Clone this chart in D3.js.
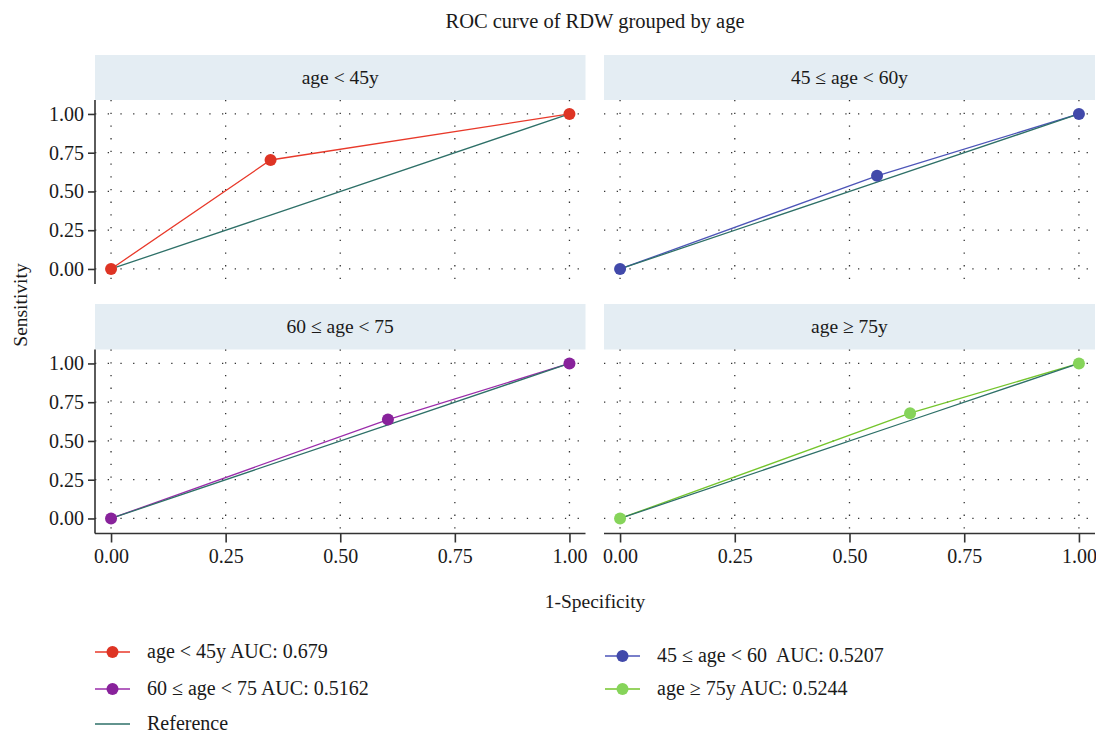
<!DOCTYPE html>
<html>
<head>
<meta charset="utf-8">
<script src="https://cdn.jsdelivr.net/npm/d3@7"></script>
<style>
  body { margin: 0; background: #fff; }
  svg text { font-family: "Liberation Serif", "DejaVu Serif", serif; fill: #1a1a1a; }
</style>
</head>
<body>
<div id="chart"></div>
<script>
// data
var panelNames = ["age < 45y", "45 \u2264 age < 60y", "60 \u2264 age < 75", "age \u2265 75y"];
var fprValues = [[0, 0.348, 1], [0, 0.56, 1], [0, 0.604, 1], [0, 0.632, 1]];
var tprValues = [[0, 0.703, 1], [0, 0.601, 1], [0, 0.638, 1], [0, 0.679, 1]];
var legendLabels = ["age < 45y AUC: 0.679", "45 \u2264 age < 60  AUC: 0.5207",
                    "60 \u2264 age < 75 AUC: 0.5162", "age \u2265 75y AUC: 0.5244"];
var pointColors = ["#DE3424", "#4149AA", "#88229B", "#86D45A"];
var lineColors  = ["#E8392A", "#4D55B8", "#9A2CAA", "#74C52C"];
var refColor = "#2E7068";
var tickValues = [0, 0.25, 0.5, 0.75, 1];

var width = 1096, height = 733;
var serif = '"Liberation Serif", "DejaVu Serif", serif';

// panel layout
var cols = [{x0: 95, x1: 585.5}, {x0: 604, x1: 1095}];
var rows = [{strip: 55, top: 100, bottom: 284}, {strip: 304, top: 349.5, bottom: 533.5}];

var svg = d3.select('#chart').append('svg')
    .attr('width', width)
    .attr('height', height);

// title
svg.append('text')
    .attr('x', 595).attr('y', 28)
    .attr('text-anchor', 'middle')
    .style('font-size', '20.5px')
    .text('ROC curve of RDW grouped by age');

var fmt = d3.format('.2f');

panelNames.forEach(function(name, i) {
  var c = cols[i % 2], r = rows[Math.floor(i / 2)];

  var x = d3.scaleLinear().domain([-0.035, 1.035]).range([c.x0, c.x1]);
  var y = d3.scaleLinear().domain([-0.097, 1.09]).range([r.bottom, r.top]);

  var g = svg.append('g');

  // strip
  g.append('rect')
      .attr('x', c.x0).attr('y', r.strip)
      .attr('width', c.x1 - c.x0).attr('height', r.top - r.strip)
      .attr('fill', '#E4EDF3');
  g.append('text')
      .attr('x', (c.x0 + c.x1) / 2).attr('y', (r.strip + r.top) / 2 + 6)
      .attr('text-anchor', 'middle')
      .style('font-size', '19.5px')
      .text(name);

  // dotted grid
  g.selectAll('.gx').data(tickValues).enter().append('line')
      .attr('x1', function(d) { return x(d); }).attr('x2', function(d) { return x(d); })
      .attr('y1', r.top).attr('y2', r.bottom)
      .attr('stroke', '#333').attr('stroke-width', 1.3)
      .attr('stroke-dasharray', '1.3 11.4');
  g.selectAll('.gy').data(tickValues).enter().append('line')
      .attr('x1', c.x0).attr('x2', c.x1)
      .attr('y1', function(d) { return y(d); }).attr('y2', function(d) { return y(d); })
      .attr('stroke', '#333').attr('stroke-width', 1.3)
      .attr('stroke-dasharray', '1.3 11.4');

  // axes: y only on left column, x only on bottom row
  if (i % 2 === 0) {
    var ay = g.append('g')
        .attr('transform', 'translate(' + c.x0 + ',0)')
        .call(d3.axisLeft(y).tickValues(tickValues).tickFormat(fmt).tickSize(7).tickPadding(4));
    ay.select('.domain').attr('d', 'M0,' + r.top + 'V' + r.bottom);
  }
  if (i >= 2) {
    var ax = g.append('g')
        .attr('transform', 'translate(0,' + r.bottom + ')')
        .call(d3.axisBottom(x).tickValues(tickValues).tickFormat(fmt).tickSize(9).tickPadding(6));
    ax.select('.domain').attr('d', 'M' + c.x0 + ',0H' + c.x1);
  }
  g.selectAll('.domain').attr('stroke', '#333').attr('stroke-width', 1.6);
  g.selectAll('.tick line').attr('stroke', '#333').attr('stroke-width', 1.6);
  g.selectAll('.tick text')
      .style('font-family', serif)
      .style('font-size', '20px')
      .attr('fill', '#1a1a1a');

  var pts = fprValues[i].map(function(v, j) { return [v, tprValues[i][j]]; });
  var ref = fprValues[i].map(function(v) { return [v, v]; });
  var line = d3.line().x(function(d) { return x(d[0]); }).y(function(d) { return y(d[1]); });

  g.append('path').attr('d', line(pts))
      .attr('fill', 'none').attr('stroke', lineColors[i]).attr('stroke-width', 1.3);
  g.append('path').attr('d', line(ref))
      .attr('fill', 'none').attr('stroke', refColor).attr('stroke-width', 1.3);
  g.selectAll('circle').data(pts).enter().append('circle')
      .attr('cx', function(d) { return x(d[0]); })
      .attr('cy', function(d) { return y(d[1]); })
      .attr('r', 6)
      .attr('fill', pointColors[i]);
});

// axis titles
svg.append('text')
    .attr('x', 595).attr('y', 608)
    .attr('text-anchor', 'middle')
    .style('font-size', '19.5px')
    .text('1-Specificity');
svg.append('text')
    .attr('transform', 'translate(27,305) rotate(-90)')
    .attr('text-anchor', 'middle')
    .style('font-size', '19.5px')
    .text('Sensitivity');

// legend
var legendPos = [[95, 652], [605, 656], [95, 689], [605, 689]];
legendLabels.forEach(function(lab, i) {
  var p = legendPos[i];
  var lg = svg.append('g').attr('transform', 'translate(' + p[0] + ',' + p[1] + ')');
  lg.append('line').attr('x1', 0).attr('x2', 35).attr('y1', 0).attr('y2', 0)
      .attr('stroke', lineColors[i]).attr('stroke-width', 1.3);
  lg.append('circle').attr('cx', 17.5).attr('cy', 0).attr('r', 6).attr('fill', pointColors[i]);
  lg.append('text').attr('x', 52).attr('y', 6)
      .style('font-size', '20px')
      .style('white-space', 'pre')
      .text(lab);
});
var rl = svg.append('g').attr('transform', 'translate(95,724)');
rl.append('line').attr('x1', 0).attr('x2', 35).attr('y1', 0).attr('y2', 0)
    .attr('stroke', refColor).attr('stroke-width', 1.3);
rl.append('text').attr('x', 52).attr('y', 5.5).style('font-size', '20px').text('Reference');
</script>
</body>
</html>
